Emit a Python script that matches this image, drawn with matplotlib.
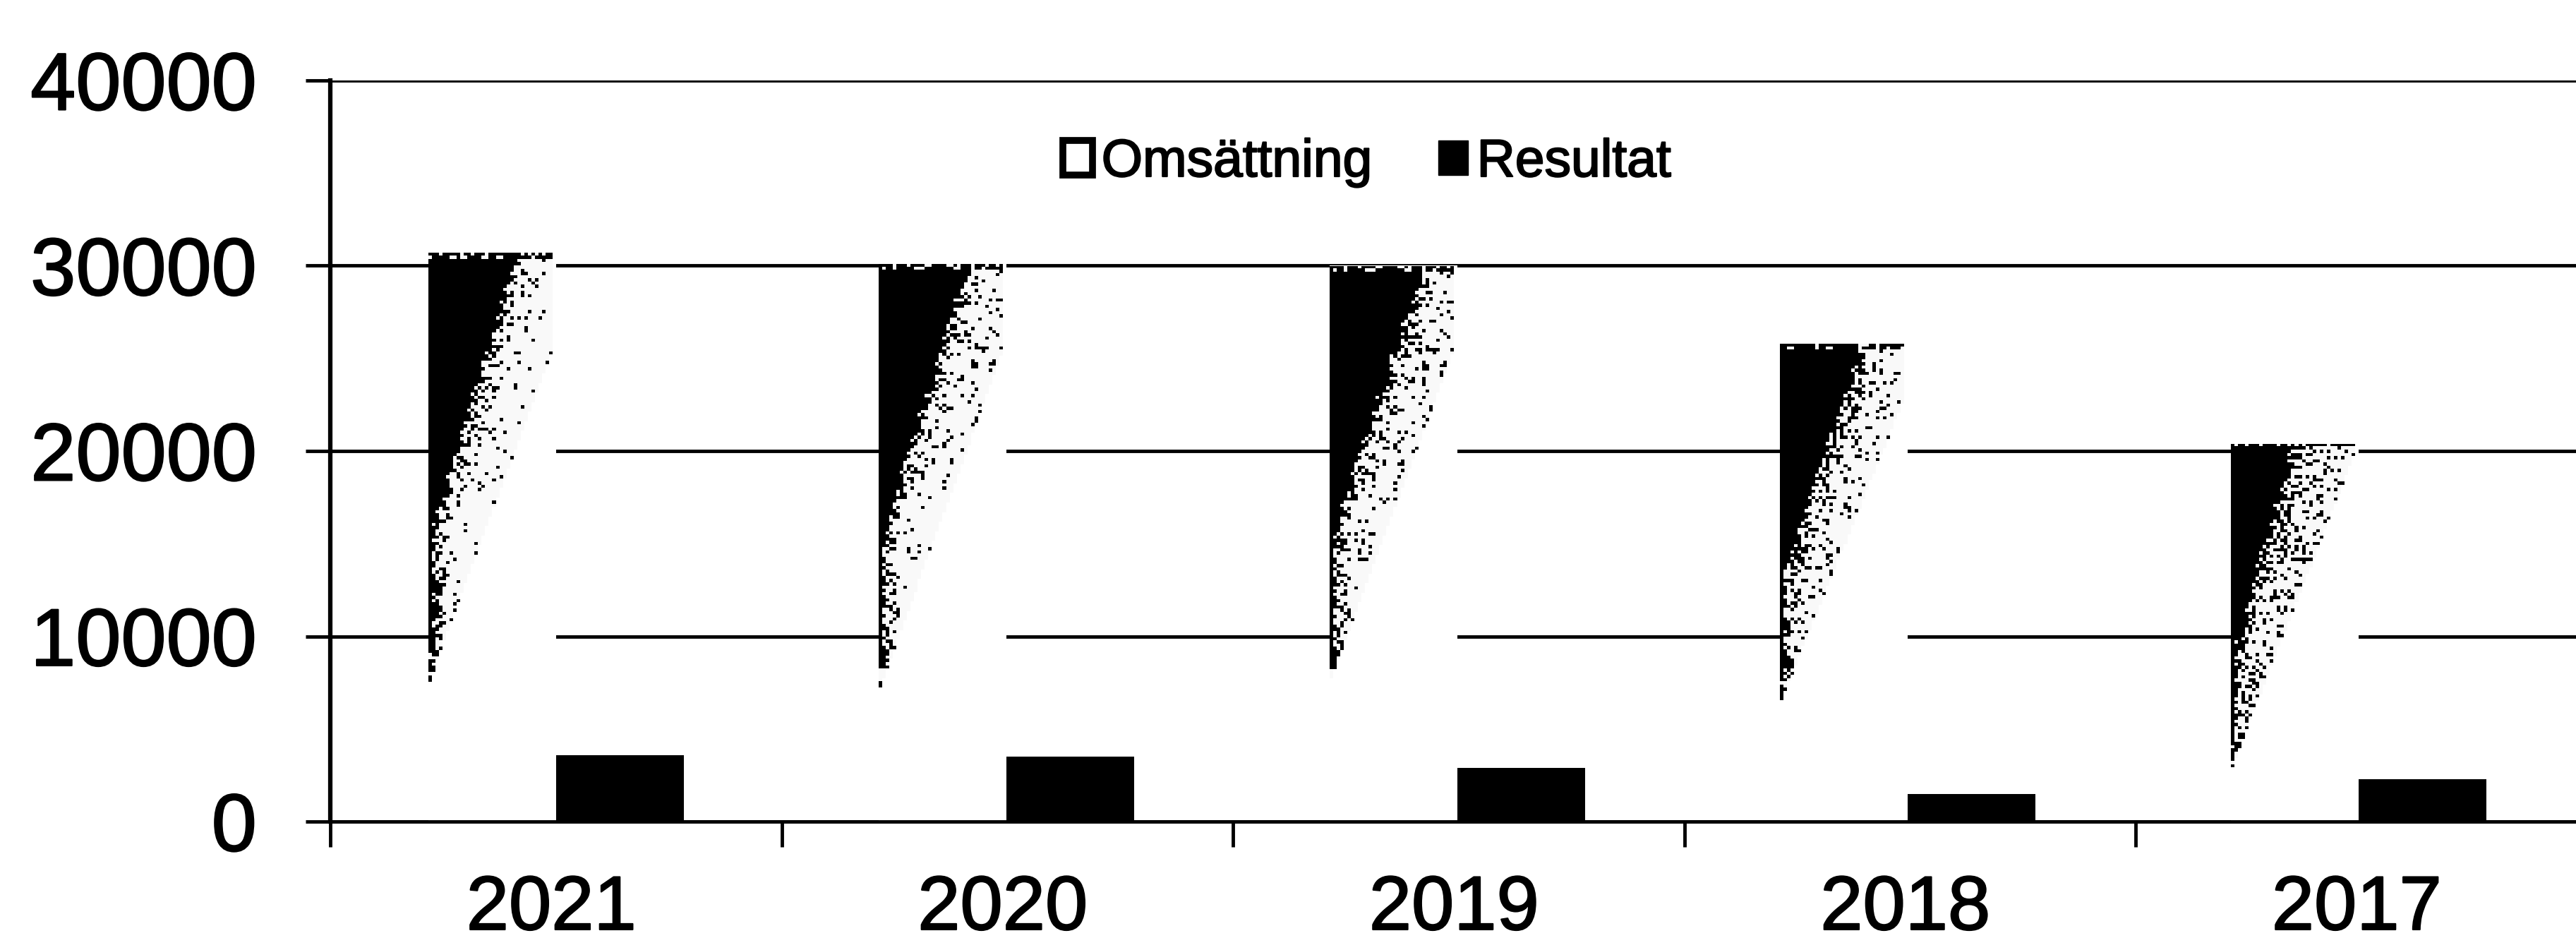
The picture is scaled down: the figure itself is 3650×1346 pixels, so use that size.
import numpy as np
import matplotlib
matplotlib.use("Agg")
import matplotlib.pyplot as plt
import matplotlib.patheffects as pe
from matplotlib.patches import Patch

# ---- data ----
years = ["2021", "2020", "2019", "2018", "2017"]
omsattning = [30700, 30100, 30000, 25800, 20400]
resultat = [3600, 3500, 2900, 1500, 2300]
y_ticks = [0, 10000, 20000, 30000, 40000]

# ---- look of the degraded (photocopied) fill of the Omsättning bars ----
BLACK_TOP = [0.68, 0.68, 0.72, 0.62, 0.48]    # reach of the solid part at bar top
FADE_END = [0.76, 0.77, 0.75, 0.755, 0.865]   # depth where the speckle stops
SPREAD = [1.25, 1.22, 1.22, 1.15, 1.0]        # reach of the speckle at bar top
SPECKLE = [0.05, 0.07, 0.10, 0.13, 0.20]      # speckle density

W, H = 3650, 1346
plt.rcParams["font.family"] = ["Liberation Sans", "DejaVu Sans"]
fig = plt.figure(figsize=(W / 100, H / 100), dpi=100, facecolor="white")
ax = fig.add_axes([468 / W, 1 - 1164 / H, (W - 468) / W, (1164 - 114) / H])

x = np.arange(len(years)) * 0.9985
bw = 0.283
bars_o = ax.bar(x - bw / 2, omsattning, bw, color="white", zorder=2)
bars_r = ax.bar(x + bw / 2, resultat, bw, color="black", zorder=3)


def speckle_texture(nx, ny, black_top, fade_end, spread, dens):
    u = (np.arange(nx) + 0.5)[None, :] / nx
    v = (np.arange(ny) + 0.5)[:, None] / ny
    i, j = np.meshgrid(np.arange(nx), np.arange(ny))
    h = np.sin(i * 12.9898 + j * 78.233 + nx + ny) * 43758.5453
    h = h - np.floor(h)
    edge_b = np.clip(black_top * (1 - v / (0.65 * fade_end)), 0, None)
    edge_s = np.minimum(0.97, spread * (1 - v / fade_end))
    d = dens + (1 - dens) * np.exp(-np.clip(u - edge_b, 0, None) / 0.07)
    d = np.where(u < edge_b, 1.0, d)
    d = np.where(u > edge_s, 0.0, d)
    d = np.where((u < 0.04) & (v < 0.9 * fade_end), 1.0, d)
    d = np.where((v < 0.012) & (u < 0.98), 0.7, d)
    rgba = np.zeros((ny, nx, 4))
    rgba[..., 3] = np.where(h < d, 1.0, np.where(u < edge_s, 0.025, 0.0))
    return rgba


for k, b in enumerate(bars_o):
    px_h = b.get_height() / 40000 * 1050
    tex = speckle_texture(36, int(px_h / 4.5), BLACK_TOP[k], FADE_END[k], SPREAD[k], SPECKLE[k])
    im = ax.imshow(
        tex,
        extent=(b.get_x(), b.get_x() + b.get_width(), 0, b.get_height()),
        aspect="auto",
        origin="upper",
        interpolation="nearest",
        zorder=2.5,
    )
    im.set_clip_path(b)

ax.set_xlim(-0.5, -0.5 + (W - 468) / 639.5)
ax.set_ylim(0, 40000)
ax.set_xticks(np.arange(len(years)) - 0.5)
ax.set_xticklabels([])
ax.set_xticks(np.arange(len(years)) - 0.01, labels=years, minor=True)
ax.set_yticks(y_ticks)
ax.set_yticklabels([str(t) for t in y_ticks])
ax.tick_params(axis="y", length=25, width=3.5, pad=50, labelsize=83, color="black")
ax.tick_params(axis="x", which="major", length=26, width=3.5)
ax.tick_params(axis="x", which="minor", length=0, pad=54, labelsize=78)
ax.grid(axis="y", color="black", lw=3.5, zorder=1)
ax.set_axisbelow(True)

for s in ("top", "right"):
    ax.spines[s].set_visible(False)
ax.spines["left"].set_linewidth(4.5)
ax.spines["bottom"].set_linewidth(3.5)
for s in ("left", "bottom"):
    ax.spines[s].set_zorder(4)

handles = [
    Patch(facecolor="white", edgecolor="black", linewidth=7, label="Omsättning"),
    Patch(facecolor="black", edgecolor="black", label="Resultat"),
]
leg = ax.legend(
    handles=handles,
    loc="upper left",
    bbox_to_anchor=(1506 / W, 1 - 196 / H),
    bbox_transform=fig.transFigure,
    ncol=2,
    frameon=False,
    fontsize=54,
    borderpad=0,
    borderaxespad=0,
    handlelength=0.56,
    handleheight=0.62,
    handletextpad=0.17,
    columnspacing=1.25,
)

# the scanned text prints slightly heavier than the plain font
stroke = [pe.withStroke(linewidth=1.5, foreground="black")]
texts = list(ax.get_yticklabels()) + list(ax.get_xticklabels(minor=True)) + list(leg.get_texts())
for t in texts:
    t.set_path_effects(stroke)

fig.savefig("out.png", dpi=100, facecolor="white")
